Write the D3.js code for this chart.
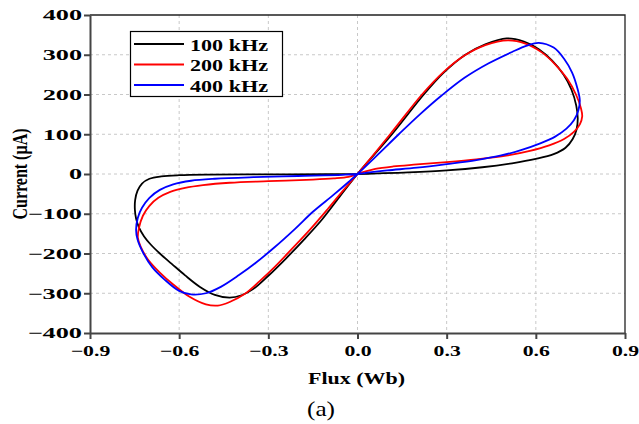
<!DOCTYPE html>
<html>
<head>
<meta charset="utf-8">
<script src="https://cdn.jsdelivr.net/npm/d3@7"></script>
<style>
body { margin: 0; background: #fff; }
text { font-family: "Liberation Serif", "Times New Roman", serif; }
</style>
</head>
<body>
<svg width="639" height="424"></svg>
<script>
// **** Data (flux in Wb, current in uA), in loop order ****

var seriesNames = ["100 kHz", "200 kHz", "400 kHz"];
var seriesColors = ["#000000", "#ff0000", "#0000ff"];

var flux100 = [0, 0.116, 0.223, 0.29, 0.363, 0.43, 0.502, 0.56, 0.61, 0.655, 0.693, 0.72, 0.736, 0.741, 0.737, 0.724, 0.70, 0.66, 0.60, 0.52, 0.42, 0.30, 0.17, 0.07,
    0, -0.1, -0.3, -0.5, -0.6, -0.66, -0.70, -0.725, -0.74, -0.748, -0.749, -0.745, -0.735, -0.718, -0.695, -0.665, -0.625, -0.58, -0.53, -0.48, -0.43, -0.39, -0.35, -0.30, -0.24, -0.18, -0.12, -0.06];
var current100 = [0, 100, 200, 255, 300, 326, 341, 333, 314, 285, 250, 212, 172, 140, 112, 88, 66, 50, 38, 27, 17, 9, 4, 1.5,
    0, -0.5, -1, -1.5, -3, -6, -12, -24, -42, -65, -90, -112, -135, -157, -178, -200, -226, -255, -284, -304, -311, -305, -289, -256, -212, -165, -115, -57];

var flux200 = [0, 0.11, 0.217, 0.29, 0.36, 0.43, 0.506, 0.565, 0.62, 0.665, 0.705, 0.735, 0.752, 0.756, 0.748, 0.728, 0.695, 0.645, 0.58, 0.50, 0.40, 0.30, 0.20, 0.12, 0.06, 0.025,
    0, -0.03, -0.08, -0.15, -0.3, -0.43, -0.52, -0.58, -0.63, -0.67, -0.70, -0.722, -0.735, -0.739, -0.73, -0.705, -0.665, -0.62, -0.565, -0.51, -0.47, -0.43, -0.38, -0.33, -0.28, -0.22, -0.16, -0.10, -0.05];
var current200 = [0, 100, 200, 257, 298, 324, 336, 328, 306, 276, 240, 200, 165, 145, 125, 106, 88, 72, 58, 46, 37, 30, 24, 19, 13, 6,
    0, -7, -11, -14, -18, -22, -28, -35, -45, -60, -80, -105, -135, -160, -182, -215, -248, -278, -309, -328, -331, -322, -302, -270, -235, -188, -140, -88, -43];

var flux400 = [0, 0.07, 0.139, 0.21, 0.284, 0.36, 0.44, 0.52, 0.57, 0.61, 0.66, 0.695, 0.722, 0.74, 0.748, 0.743, 0.728, 0.703, 0.665, 0.615, 0.55, 0.48, 0.40, 0.30, 0.20, 0.10, 0.04,
    0, -0.05, -0.2, -0.35, -0.48, -0.56, -0.62, -0.665, -0.70, -0.725, -0.739, -0.745, -0.74, -0.72, -0.69, -0.65, -0.60, -0.56, -0.51, -0.46, -0.40, -0.34, -0.28, -0.21, -0.15, -0.08, -0.03];
var current400 = [0, 50, 100, 150, 198, 242, 278, 307, 323, 330, 318, 290, 255, 215, 185, 160, 135, 114, 94, 77, 60, 46, 35, 25, 16, 9, 4,
    0, -2, -5, -8, -12, -17, -26, -40, -60, -85, -110, -140, -165, -200, -235, -265, -294, -303, -300, -284, -255, -222, -185, -138, -95, -52, -20];

var xTicks = [-0.9, -0.6, -0.3, 0.0, 0.3, 0.6, 0.9];
var yTicks = [-400, -300, -200, -100, 0, 100, 200, 300, 400];

// **** Scales ****

var xScale = d3.scaleLinear().domain([-0.9, 0.9]).range([90, 625]);
var yScale = d3.scaleLinear().domain([-400, 400]).range([333, 15]);

var svg = d3.select('svg');

// stretch text horizontally like the reference picture
function stretch(sel, k) {
    sel.each(function() {
        var w = this.getComputedTextLength();
        d3.select(this).attr("textLength", w * k).attr("lengthAdjust", "spacingAndGlyphs");
    });
}

// **** Grid ****

svg.append("g").selectAll("line")
    .data(xTicks.slice(1, -1))
    .enter().append("line")
    .attr("x1", d => xScale(d)).attr("x2", d => xScale(d))
    .attr("y1", yScale(400)).attr("y2", yScale(-400))
    .style("stroke", "#c8c8c8").style("stroke-dasharray", "3,3");

svg.append("g").selectAll("line")
    .data(yTicks.slice(1, -1))
    .enter().append("line")
    .attr("x1", xScale(-0.9)).attr("x2", xScale(0.9))
    .attr("y1", d => yScale(d)).attr("y2", d => yScale(d))
    .style("stroke", "#c8c8c8").style("stroke-dasharray", "3,3");

// top and right frame
svg.append("path")
    .attr("d", `M${xScale(-0.9)},${yScale(400)}H${xScale(0.9)}V${yScale(-400)}`)
    .style("fill", "none").style("stroke", "#222").style("stroke-width", 1.3);

// **** Curves ****

var line = d3.line()
    .x(d => xScale(d[0]))
    .y(d => yScale(d[1]))
    .curve(d3.curveCatmullRomClosed.alpha(0.5));

var loops = [
    d3.zip(flux100, current100),
    d3.zip(flux200, current200),
    d3.zip(flux400, current400)
];

svg.append("g").selectAll("path")
    .data(loops)
    .enter().append("path")
    .attr("d", line)
    .style("fill", "none")
    .style("stroke", (d, i) => seriesColors[i])
    .style("stroke-width", 1.8);

// **** Axes ****

var xAxis = svg.append('g').attr('class', 'x axis')
    .attr('transform', `translate(0,${yScale(-400)})`)
    .call(d3.axisBottom(xScale).tickValues(xTicks).tickSize(6).tickSizeOuter(0).tickPadding(6)
        .tickFormat(d3.format(".1f")));

var yAxis = svg.append('g').attr('class', 'y axis')
    .attr('transform', `translate(${xScale(-0.9)},0)`)
    .call(d3.axisLeft(yScale).tickValues(yTicks).tickSize(6).tickSizeOuter(0).tickPadding(2));

svg.selectAll(".axis path, .axis line").style("stroke", "#444").style("stroke-width", 2);
svg.selectAll(".axis text")
    .style("font-family", '"Liberation Serif", serif')
    .style("font-size", "15px").style("font-weight", "bold").style("fill", "#000");

stretch(xAxis.selectAll("text"), 1.45);
stretch(yAxis.selectAll("text"), 1.75);

// **** Labels ****

svg.append("text")
    .attr("text-anchor", "middle")
    .attr("transform", "translate(27,174) scale(1.35,1) rotate(-90)")
    .style("font-size", "16px").style("font-weight", "bold")
    .text("Current (µA)");

svg.append("text")
    .attr("text-anchor", "middle")
    .attr("x", 356.5).attr("y", 384)
    .attr("textLength", 97).attr("lengthAdjust", "spacingAndGlyphs")
    .style("font-size", "16px").style("font-weight", "bold")
    .text("Flux (Wb)");

svg.append("text")
    .attr("text-anchor", "middle")
    .attr("x", 321).attr("y", 416)
    .attr("textLength", 28).attr("lengthAdjust", "spacingAndGlyphs")
    .style("font-size", "21px")
    .text("(a)");

// **** Legend ****

var legend = svg.append("g").attr("class", "legend");

legend.append("rect")
    .attr("x", 130.5).attr("y", 31.5)
    .attr("width", 152).attr("height", 65)
    .style("fill", "#fff").style("stroke", "#000").style("stroke-width", 1.2);

var item = legend.selectAll(".item")
    .data(seriesNames)
    .enter().append("g")
    .attr("class", "item")
    .attr("transform", (d, i) => `translate(0,${44 + i * 20.5})`);

item.append("line")
    .attr("x1", 134).attr("x2", 184)
    .style("stroke", (d, i) => seriesColors[i])
    .style("stroke-width", 1.8);

item.append("text")
    .attr("x", 190).attr("y", 6.5)
    .attr("textLength", 78).attr("lengthAdjust", "spacingAndGlyphs")
    .style("font-size", "17.5px").style("font-weight", "bold")
    .text(d => d);
</script>
</body>
</html>
